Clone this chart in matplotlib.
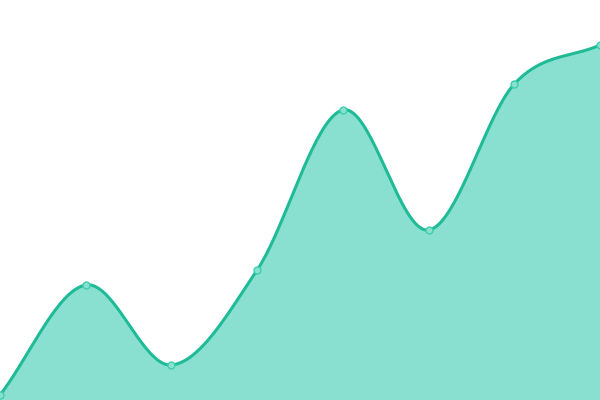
import numpy as np
import matplotlib
matplotlib.use('Agg')
import matplotlib.pyplot as plt

# valeurs
x_idx = [0, 1, 2, 3, 4, 5, 6, 7]
values = [5, 115, 35, 130, 290, 170, 316, 355]

line_color = '#1fbb96'
fill_color = '#8ae0d0'


def catmull_rom(xs, ys, n=40):
    # courbe lissée qui passe par chaque point
    xs = np.asarray(xs, float)
    ys = np.asarray(ys, float)
    px = np.concatenate([[2 * xs[0] - xs[1]], xs, [2 * xs[-1] - xs[-2]]])
    py = np.concatenate([[2 * ys[0] - ys[1]], ys, [2 * ys[-1] - ys[-2]]])
    out_x, out_y = [], []
    t = np.linspace(0, 1, n)
    for i in range(1, len(px) - 2):
        p0, p1, p2, p3 = py[i - 1], py[i], py[i + 1], py[i + 2]
        x1, x2 = px[i], px[i + 1]
        m1 = (p2 - p0) / 2
        m2 = (p3 - p1) / 2
        h00 = 2 * t**3 - 3 * t**2 + 1
        h10 = t**3 - 2 * t**2 + t
        h01 = -2 * t**3 + 3 * t**2
        h11 = t**3 - t**2
        out_y.append(h00 * p1 + h10 * m1 + h01 * p2 + h11 * m2)
        out_x.append(x1 + t * (x2 - x1))
    return np.concatenate(out_x), np.concatenate(out_y)


sx, sy = catmull_rom(x_idx, values)

fig = plt.figure(figsize=(6, 4), dpi=100)
ax = fig.add_axes([0, 0, 1, 1])
ax.fill_between(sx, sy, 0, color=fill_color, linewidth=0)
ax.plot(sx, sy, color=line_color, linewidth=2.2)
ax.plot(x_idx, values, 'o', markersize=5, markerfacecolor=fill_color,
        markeredgecolor='#3ccfae', markeredgewidth=1, clip_on=True)
ax.set_xlim(0, 7)
ax.set_ylim(0, 400)
ax.axis('off')

fig.savefig('out.png', dpi=100)
